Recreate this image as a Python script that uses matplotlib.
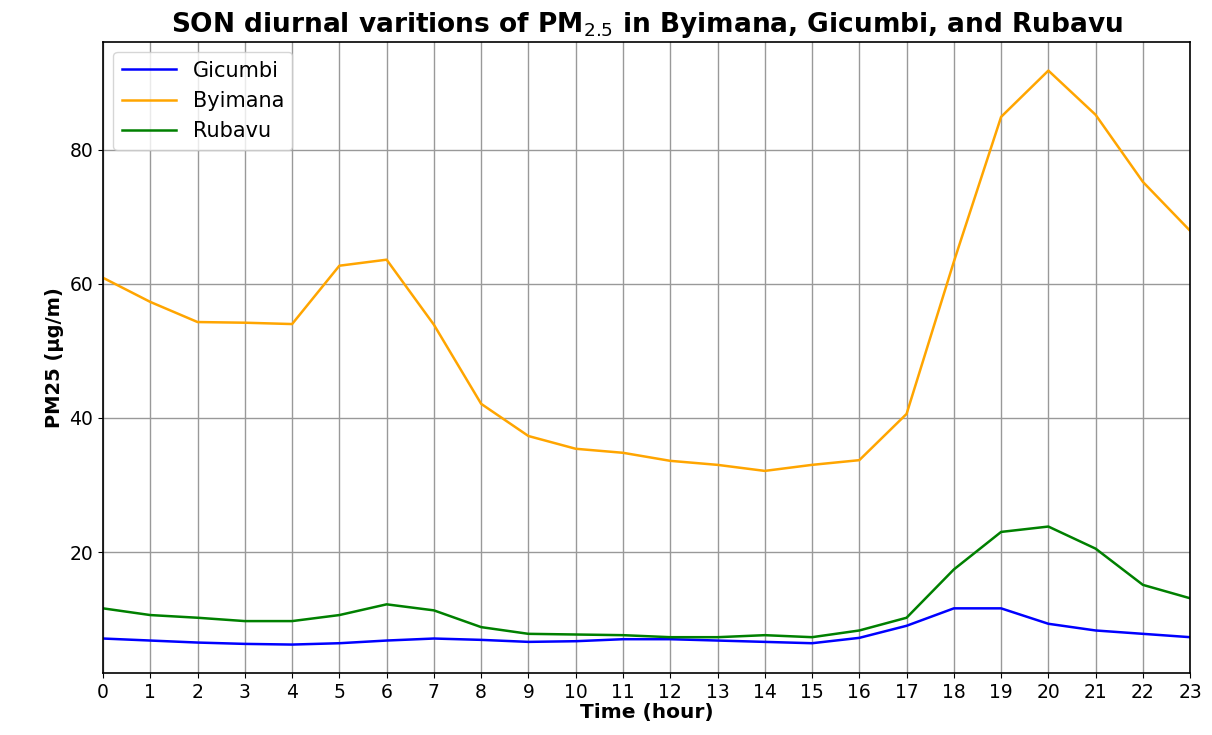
import matplotlib
matplotlib.use("Agg")
import matplotlib.pyplot as plt

hours = list(range(24))
gicumbi = [7.1, 6.8, 6.5, 6.3, 6.2, 6.4, 6.8, 7.1, 6.9, 6.6, 6.7, 7.0,
           7.0, 6.8, 6.6, 6.4, 7.2, 9.0, 11.6, 11.6, 9.3, 8.3, 7.8, 7.3]
byimana = [60.9, 57.3, 54.3, 54.2, 54.0, 62.7, 63.6, 53.9, 42.1, 37.3, 35.4, 34.8,
           33.6, 33.0, 32.1, 33.0, 33.7, 40.6, 63.3, 84.9, 91.8, 85.2, 75.2, 67.9]
rubavu = [11.6, 10.6, 10.2, 9.7, 9.7, 10.6, 12.2, 11.3, 8.8, 7.8, 7.7, 7.6,
          7.3, 7.3, 7.6, 7.3, 8.3, 10.2, 17.4, 23.0, 23.8, 20.5, 15.1, 13.1]
yticks = [20, 40, 60, 80]

fig = plt.figure(figsize=(12.12, 7.35), dpi=100)
ax = fig.add_axes([0.085, 0.084, 0.897, 0.859])
ax.plot(hours, gicumbi, color="blue", lw=1.8, label="Gicumbi")
ax.plot(hours, byimana, color="orange", lw=1.8, label="Byimana")
ax.plot(hours, rubavu, color="green", lw=1.8, label="Rubavu")
ax.set_xlim(0, 23)
ax.set_xticks(hours)
ax.set_yticks(yticks)
ax.tick_params(labelsize=13.5)
ax.grid(True, color="#999999", lw=1)
for s in ax.spines.values():
    s.set_linewidth(1.2)
ax.set_title(r"SON diurnal varitions of PM$_{2.5}$ in Byimana, Gicumbi, and Rubavu",
             fontsize=19, fontweight="bold", pad=7)
ax.set_xlabel("Time (hour)", fontsize=14.5, fontweight="bold", labelpad=1)
ax.set_ylabel("PM25 (μg/m)", fontsize=14, fontweight="bold")
ax.legend(loc="upper left", fontsize=15, handlelength=2.6)
fig.savefig("out.png", dpi=100)
